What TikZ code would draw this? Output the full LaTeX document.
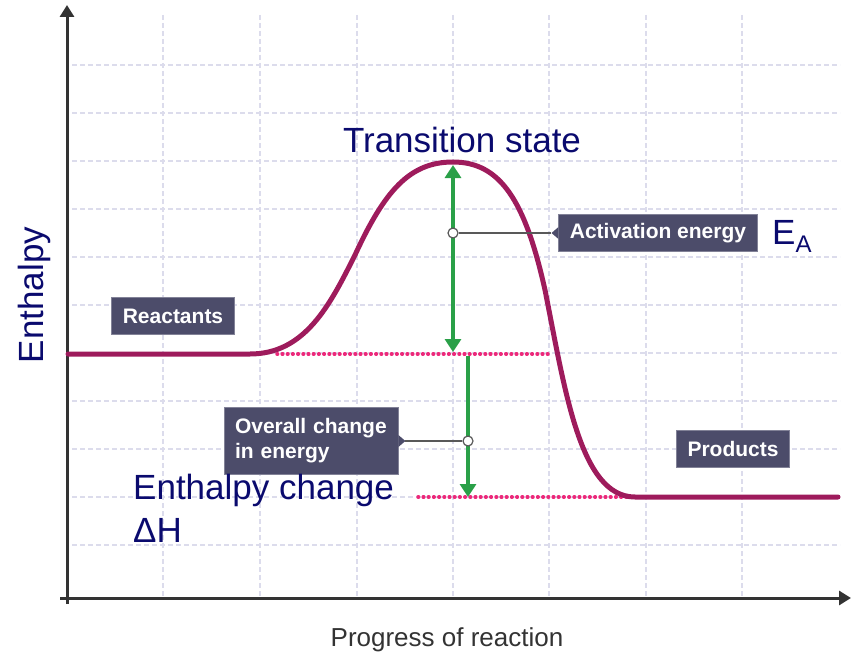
\documentclass[tikz,border=0pt]{standalone}
\usepackage{fontspec}
\setmainfont{Liberation Sans}
\usetikzlibrary{arrows.meta,positioning,calc}
\definecolor{curvecol}{RGB}{158,27,92}
\definecolor{levelcol}{RGB}{236,40,122}
\definecolor{arrowcol}{RGB}{42,160,72}
\definecolor{tagcol}{RGB}{76,76,106}
\definecolor{navy}{RGB}{10,10,110}
\definecolor{gridcol}{RGB}{220,220,236}
\definecolor{axiscol}{RGB}{51,51,51}

\begin{document}
\begin{tikzpicture}[x=1pt, y=-1pt,
  tag/.style={fill=tagcol, draw=tagcol!70!white, line width=0.8pt, text=white, font=\bfseries\fontsize{21}{25}\selectfont, inner xsep=11pt, minimum height=37pt},
  big/.style={text=navy, font=\fontsize{35}{43}\selectfont, inner sep=0pt},
  dot/.style={circle, draw=gray!70!black, fill=white, line width=1.2pt, minimum size=10pt, inner sep=0pt},
  gridline/.style={gridcol, line width=1.2pt, dash pattern=on 5pt off 3pt},
  level/.style={levelcol, line width=3.5pt, line cap=round, dash pattern=on 0.6pt off 4.6pt},
  gap/.style={arrowcol, line width=3.5pt},
  axis/.style={axiscol, line width=3pt, -{Triangle[width=14pt,length=12pt]}},
  pointer/.style={gray!70!black, line width=1.2pt}]
  \useasboundingbox (0,0) rectangle (868,661);
  % grid
  \foreach \gy in {65,113,...,546}
    \draw[gridline] (72,\gy) -- (840,\gy);
  \foreach \gx in {163,260,357,453,549,646,742}
    \draw[gridline] (\gx,15) -- (\gx,596);
  % axes
  \coordinate (origin) at (67,598);
  \coordinate (ytop) at (67,5);
  \coordinate (xend) at (851,598);
  \draw[axis] ($(origin)+(0,6)$) -- (ytop);
  \draw[axis] ($(origin)+(-7,0)$) -- (xend);
  % levels
  \coordinate (rlevel) at (277,354);
  \coordinate (rlevelend) at (550,354);
  \coordinate (plevel) at (418,497);
  \coordinate (plevelend) at (630,497);
  \draw[level] (rlevel) -- (rlevelend);
  \draw[level] (plevel) -- (plevelend);
  % reaction path
  \draw[curvecol, line width=5pt, line cap=round] (68,354) -- (250,354)
    .. controls (305,354) and (330,305) .. (355,255)
    .. controls (385,190) and (410,162) .. (453,162)
    .. controls (500,162) and (525,200) .. (545,290)
    .. controls (565,390) and (580,497) .. (635,497) -- (838,497);
  % arrows
  \coordinate (eatop) at (453,165);
  \coordinate (eabot) at (453,352);
  \coordinate (dhtop) at (468,356);
  \coordinate (dhbot) at (468,497);
  \draw[gap, {Triangle[width=16pt,length=13pt]}-{Triangle[width=16pt,length=13pt]}] (eatop) -- (eabot);
  \draw[gap, -{Triangle[width=16pt,length=13pt]}] (dhtop) -- (dhbot);
  % tags
  \node[tag] (react) at (173,316) {Reactants};
  \node[tag] (prod) at (733,449) {Products};
  \node[tag] (act) at (658,233) {Activation energy};
  \node[tag, text width=152pt, align=left, inner xsep=11pt, minimum height=67pt] (overall) at (311,441) {Overall change\\in energy};
  \fill[tagcol] ($(act.west)+(0,-6)$) -- ++(-7,6) -- ++(7,6) -- cycle;
  \fill[tagcol] ($(overall.east)+(0,-6)$) -- ++(7,6) -- ++(-7,6) -- cycle;
  \node[dot] (c1) at (453,233) {};
  \node[dot] (c2) at (468,441) {};
  \draw[pointer] (c1) -- ($(act.west)+(-7,0)$);
  \draw[pointer] (c2) -- ($(overall.east)+(7,0)$);
  % labels
  \node[big, anchor=base] (ts) at (462,152) {Transition state};
  \node[big, anchor=base west] (ea) at (772,244) {E\raisebox{-8pt}{\fontsize{24}{24}\selectfont A}};
  \node[big, anchor=base west] (dhtext) at (133,499) {Enthalpy change};
  \node[big, anchor=base west] (dhsym) at (133,542) {ΔH};
  \node[big, rotate=90, anchor=base] (ylab) at (43,295) {Enthalpy};
  \node[font=\fontsize{26}{30}\selectfont, text=axiscol, anchor=base, inner sep=0pt] (xlab) at (447,646) {Progress of reaction};
\end{tikzpicture}
\end{document}
